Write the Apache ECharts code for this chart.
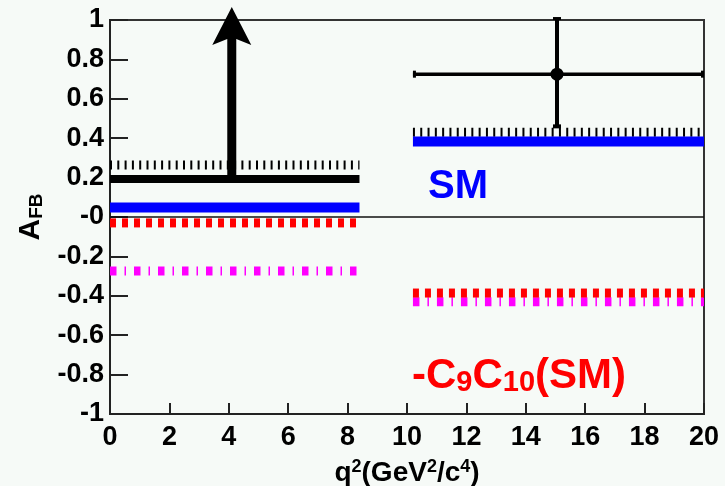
<!DOCTYPE html>
<html><head><meta charset="utf-8">
<script src="https://cdn.jsdelivr.net/npm/echarts@6/dist/echarts.min.js"></script>
<style>html,body{margin:0;padding:0;background:#f6faf7;}#c{width:725px;height:486px;}</style>
</head><body><div id="c"></div>
<script>
// ---- data ----
const xTickLabels = ['0','2','4','6','8','10','12','14','16','18','20'];
const yTickLabels = ['-1','-0.8','-0.6','-0.4','-0.2','-0','0.2','0.4','0.6','0.8','1'];
const binLow  = [0, 10.2];
const binHigh = [8.4, 20];
const measLower   = [0.193, null];   // black solid bar (lower limit)
const measHatch   = [0.264, 0.43];   // black hatched
const smValue     = [0.048, 0.383];  // blue SM
const flipValue   = [-0.03, -0.386]; // red -C9C10(SM)
const magentaValue= [-0.274, -0.43]; // magenta dash-dot
const pointX = [15.05], pointY = [0.725];
const pointXLow = [10.2], pointXHigh = [20];
const pointYLow = [0.455], pointYHigh = [1.01];
const limitX = [4.1], limitFrom = [0.193], limitTip = [1.066];
const zeroLineX = [0, 20];
const smLabelPos = [10.71, 0.152];
const flipLabelPos = [10.17, -0.807];

const FONT = '"Liberation Sans", Arial, Helvetica, sans-serif';

function segSeries(values, color, width, dash, z) {
  const out = [];
  values.forEach((v, i) => {
    if (v === null) return;
    out.push({
      type: 'line', data: [[binLow[i], v], [binHigh[i], v]],
      symbol: 'none', silent: true, z: z || 3, clip: false,
      lineStyle: { color: color, width: width, type: dash || 'solid', cap: 'butt' }
    });
  });
  return out;
}

const series = [];
series.push({
  type: 'line', data: [[zeroLineX[0], 0], [zeroLineX[1], 0]], symbol: 'none', silent: true, z: 2,
  lineStyle: { color: '#111', width: 1.5 }
});
series.push(...segSeries(magentaValue, '#ff00ff', 9, [6.5, 8, 1.5, 8], 3));
series.push(...segSeries(flipValue, '#ff0000', 9, [6, 6], 4));
series.push(...segSeries(measHatch, '#000000', 9, [2, 5.3], 3));
series.push(...segSeries(smValue, '#0000ff', 10, 'solid', 4));
series.push(...segSeries(measLower, '#000000', 8, 'solid', 5));

// arrow (lower limit)
series.push({
  type: 'custom', clip: false, z: 6, silent: true,
  data: limitX.map((x, i) => [x, limitFrom[i], limitTip[i]]),
  renderItem: function (params, api) {
    const base = api.coord([api.value(0), api.value(1)]);
    const tip = api.coord([api.value(0), api.value(2)]);
    const x = tip[0], ty = tip[1];
    return {
      type: 'group', children: [
        { type: 'rect', shape: { x: x - 4.5, y: ty + 30, width: 9, height: base[1] - ty - 30 }, style: { fill: '#000' } },
        { type: 'polygon', shape: { points: [[x, ty], [x + 19.5, ty + 38], [x + 4.5, ty + 32], [x - 4.5, ty + 32], [x - 19.5, ty + 38]] }, style: { fill: '#000' } }
      ]
    };
  }
});

// data point with error bars
series.push({
  type: 'custom', clip: false, z: 6, silent: true,
  data: pointX.map((x, i) => [x, pointY[i], pointXLow[i], pointXHigh[i], pointYLow[i], pointYHigh[i]]),
  renderItem: function (params, api) {
    const c = api.coord([api.value(0), api.value(1)]);
    const xl = api.coord([api.value(2), api.value(1)]);
    const xh = api.coord([api.value(3), api.value(1)]);
    const yl = api.coord([api.value(0), api.value(4)]);
    const yh = api.coord([api.value(0), api.value(5)]);
    const st = { stroke: '#000', lineWidth: 3.5 };
    return {
      type: 'group', children: [
        { type: 'line', shape: { x1: xl[0], y1: c[1], x2: xh[0], y2: c[1] }, style: st },
        { type: 'line', shape: { x1: c[0], y1: yl[1], x2: c[0], y2: yh[1] }, style: { stroke: '#000', lineWidth: 4 } },
        { type: 'rect', shape: { x: xl[0], y: c[1] - 3.5, width: 3, height: 7 }, style: { fill: '#000' } },
        { type: 'rect', shape: { x: xh[0] - 3, y: c[1] - 3.5, width: 3, height: 7 }, style: { fill: '#000' } },
        { type: 'rect', shape: { x: c[0] - 4, y: yl[1] - 3, width: 8, height: 4 }, style: { fill: '#000' } },
        { type: 'rect', shape: { x: c[0] - 4, y: yh[1] - 1, width: 8, height: 3 }, style: { fill: '#000' } },
        { type: 'circle', shape: { cx: c[0], cy: c[1], r: 6.5 }, style: { fill: '#000' } }
      ]
    };
  }
});

// text annotations placed in data coordinates
series.push({
  type: 'scatter', symbolSize: 0, silent: true, z: 7, clip: false,
  itemStyle: { opacity: 1 },
  data: [
    { value: smLabelPos, label: { formatter: '{sm|SM}' } },
    { value: flipLabelPos, label: { formatter: '{m|-C}{s|9}{m|C}{s|10}{m|(SM)}' } }
  ],
  label: {
    show: true, position: 'right', distance: 0, opacity: 1,
    rich: {
      sm: { color: '#0000ff', fontFamily: FONT, fontWeight: 'bold', fontSize: 40, lineHeight: 44 },
      m: { color: '#ff0000', fontFamily: FONT, fontWeight: 'bold', fontSize: 42, lineHeight: 44 },
      s: { color: '#ff0000', fontFamily: FONT, fontWeight: 'bold', fontSize: 29, lineHeight: 28, verticalAlign: 'bottom' }
    }
  }
});

const chart = echarts.init(document.getElementById('c'), null, { renderer: 'canvas' });
chart.setOption({
  backgroundColor: '#f6faf7',
  animation: false,
  grid: { left: 110, right: 21, top: 20, bottom: 72, show: true, borderColor: '#333', borderWidth: 2,
    backgroundColor: 'transparent', containLabel: false, outerBoundsMode: 'none' },
  xAxis: {
    type: 'value', min: 0, max: 20, interval: 2,
    axisLine: { show: true, onZero: false, lineStyle: { color: '#222', width: 2 } },
    axisTick: { show: true, inside: true, length: 11, lineStyle: { color: '#222', width: 2 } },
    splitLine: { show: false },
    axisLabel: { fontFamily: FONT, fontWeight: 'bold', fontSize: 27, color: '#000', margin: 10,
      formatter: (v, i) => xTickLabels[i] },
    name: '{m|q}{p|2}{m|(GeV}{p|2}{m|/c}{p|4}{m|)}',
    nameLocation: 'middle', nameGap: 44,
    nameTextStyle: { rich: {
      m: { fontFamily: FONT, fontWeight: 'bold', fontSize: 28, color: '#000', lineHeight: 30 },
      p: { fontFamily: FONT, fontWeight: 'bold', fontSize: 18, color: '#000', lineHeight: 18, verticalAlign: 'top' }
    } }
  },
  yAxis: {
    type: 'value', min: -1, max: 1, interval: 0.2,
    axisLine: { show: true, onZero: false, lineStyle: { color: '#222', width: 2 } },
    axisTick: { show: true, inside: true, length: 18, lineStyle: { color: '#222', width: 2 } },
    splitLine: { show: false },
    axisLabel: { fontFamily: FONT, fontWeight: 'bold', fontSize: 27, color: '#000', margin: 6,
      formatter: (v, i) => yTickLabels[i] },
    name: '{m|A}{s|FB}',
    nameLocation: 'middle', nameGap: 62, nameRotate: 90,
    nameTextStyle: { rich: {
      m: { fontFamily: FONT, fontWeight: 'bold', fontSize: 30, color: '#000', lineHeight: 32 },
      s: { fontFamily: FONT, fontWeight: 'bold', fontSize: 19, color: '#000', lineHeight: 19, verticalAlign: 'bottom' }
    } }
  },
  series: series
});
</script></body></html>
